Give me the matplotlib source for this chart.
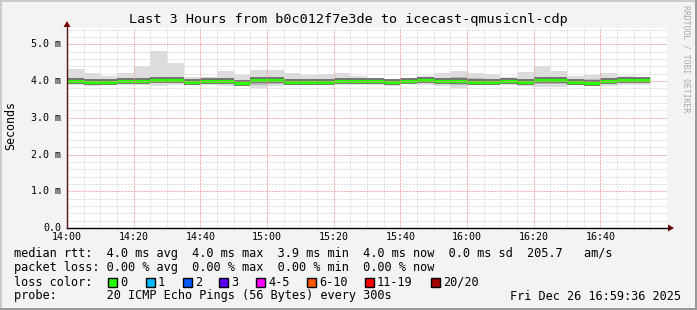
import numpy as np
import pandas as pd
import matplotlib
matplotlib.use("Agg")
import matplotlib.pyplot as plt
import matplotlib.dates as mdates
from matplotlib.patches import Rectangle, Polygon

W, H = 697, 310
MONO = "DejaVu Sans Mono"

# 5-minute smokeping bins, values in ms
times = pd.date_range("2025-12-26 14:00", periods=35, freq="5min")
rtt_max = [4.33, 4.21, 4.15, 4.22, 4.40, 4.82, 4.50, 4.10, 4.12, 4.26, 4.17, 4.29, 4.30, 4.21, 4.16, 4.19, 4.21, 4.14,
           4.06, 4.06, 4.08, 4.14, 4.23, 4.26, 4.23, 4.19, 4.12, 4.25, 4.41, 4.28, 4.13, 4.17, 4.21, 4.14, 4.11]
rtt_q3 = [4.08, 4.06, 4.04, 4.07, 4.09, 4.10, 4.08, 4.05, 4.05, 4.07, 4.04, 4.12, 4.11, 4.05, 4.05, 4.06, 4.08, 4.05,
          4.05, 4.03, 4.06, 4.09, 4.09, 4.10, 4.07, 4.05, 4.05, 4.06, 4.12, 4.10, 4.04, 4.05, 4.08, 4.07, 4.06]
rtt_median = [4.00, 3.98, 3.98, 4.01, 4.01, 4.02, 4.02, 3.98, 3.99, 3.99, 3.96, 4.03, 4.03, 3.97, 3.98, 3.98, 4.00, 3.99,
              4.00, 3.97, 4.00, 4.02, 4.01, 4.01, 3.98, 3.98, 3.99, 3.97, 4.03, 4.03, 3.97, 3.95, 4.00, 4.02, 4.02]
rtt_q1 = [3.95, 3.92, 3.94, 3.95, 3.94, 3.95, 3.96, 3.94, 3.93, 3.92, 3.92, 3.88, 3.92, 3.92, 3.93, 3.92, 3.95, 3.94,
          3.94, 3.92, 3.95, 3.95, 3.93, 3.90, 3.92, 3.93, 3.93, 3.92, 3.93, 3.91, 3.92, 3.91, 3.93, 3.95, 3.96]
rtt_min = [3.90, 3.86, 3.90, 3.90, 3.88, 3.87, 3.89, 3.91, 3.89, 3.87, 3.90, 3.80, 3.86, 3.88, 3.89, 3.88, 3.90, 3.90,
           3.89, 3.87, 3.91, 3.90, 3.86, 3.82, 3.88, 3.89, 3.88, 3.87, 3.85, 3.84, 3.88, 3.86, 3.87, 3.89, 3.90]

y_ticks = [0, 1, 2, 3, 4, 5]
y_labels = ["0.0", "1.0 m", "2.0 m", "3.0 m", "4.0 m", "5.0 m"]

loss_labels = ["0", "1", "2", "3", "4-5", "6-10", "11-19", "20/20"]
loss_colors = ["#26ff00", "#00b8ff", "#0059ff", "#5e00ff", "#ff00ff", "#ff5500", "#ff0000", "#a10000"]

title = "Last 3 Hours from b0c012f7e3de to icecast-qmusicnl-cdp"
line_rtt = "median rtt:  4.0 ms avg  4.0 ms max  3.9 ms min  4.0 ms now  0.0 ms sd  205.7   am/s"
line_loss = "packet loss: 0.00 % avg  0.00 % max  0.00 % min  0.00 % now"
line_probe = "probe:       20 ICMP Echo Pings (56 Bytes) every 300s"
stamp = "Fri Dec 26 16:59:36 2025"


def fx(x):
    return x / W


def fy(y):
    return 1 - y / H


fig = plt.figure(figsize=(W / 100, H / 100), dpi=100, facecolor="#f3f3f3")

# frame (rrdtool shade)
fig.add_artist(Rectangle((0, fy(2)), 1, 2 / H, transform=fig.transFigure, color="#cbcbcb", lw=0))
fig.add_artist(Rectangle((0, 0), 2 / W, 1, transform=fig.transFigure, color="#cbcbcb", lw=0))
fig.add_artist(Rectangle((0, 0), 1, 2 / H, transform=fig.transFigure, color="#999999", lw=0))
fig.add_artist(Rectangle((fx(W - 2), 0), 2 / W, 1, transform=fig.transFigure, color="#999999", lw=0))

ax = fig.add_axes([fx(67), fy(228), 600 / W, 200 / H])
ax.set_facecolor("white")

width = pd.Timedelta(minutes=5) / pd.Timedelta(days=1)
x = mdates.date2num(times)

ax.bar(x, np.array(rtt_max) - np.array(rtt_min), bottom=rtt_min, width=width, align="edge",
       color="#dcdcdc", linewidth=0, zorder=2)
ax.bar(x, np.array(rtt_q3) - np.array(rtt_q1), bottom=rtt_q1, width=width, align="edge",
       color="#b8b8b8", linewidth=0, zorder=3)
ax.hlines(rtt_median, x, x + width, colors="#707070", lw=4.2, zorder=4)
ax.hlines(rtt_median, x, x + width, colors=loss_colors[0], lw=2.3, zorder=5)

x0 = mdates.date2num(pd.Timestamp("2025-12-26 14:00"))
x1 = mdates.date2num(pd.Timestamp("2025-12-26 17:00"))
ax.set_xlim(x0, x1)
ax.set_ylim(0, 5.444)

# grid
dots = (0, (0.72, 0.72))
for m in range(5, 180, 5):
    xm = x0 + m / 1440
    major = m % 20 == 0
    ax.axvline(xm, color="#f09090" if major else "#d4d4d4", lw=0.72, ls=dots, zorder=1 if not major else 6)
for v in np.arange(0.2, 5.44, 0.2):
    major = abs(v - round(v)) < 1e-6
    ax.axhline(v, color="#f09090" if major else "#d4d4d4", lw=0.72, ls=dots, zorder=1 if not major else 6)

for s in ax.spines.values():
    s.set_visible(False)
ax.set_xticks([])
ax.set_yticks([])

# axes lines with arrows
fig.add_artist(plt.Line2D([fx(67), fx(670)], [fy(228), fy(228)], transform=fig.transFigure, color="#000000", lw=1))
fig.add_artist(plt.Line2D([fx(67), fx(67)], [fy(228), fy(25)], transform=fig.transFigure, color="#5a1010", lw=1))
fig.add_artist(Polygon([(fx(668), fy(224.5)), (fx(674), fy(228)), (fx(668), fy(231.5))],
                       transform=fig.transFigure, color="#7f0000", lw=0))
fig.add_artist(Polygon([(fx(63.5), fy(27)), (fx(67), fy(21)), (fx(70.5), fy(27))],
                       transform=fig.transFigure, color="#7f0000", lw=0))

# tick labels
ticks = pd.date_range("2025-12-26 14:00", "2025-12-26 16:40", freq="20min")
for t in ticks:
    px = 67 + (mdates.date2num(t) - x0) * 1440 * 600 / 180
    fig.text(fx(px), fy(237), t.strftime("%H:%M"), ha="center", va="center", family=MONO, fontsize=7.2)
for v, lab in zip(y_ticks, y_labels):
    py = 228 - v * 200 / 5.444
    fig.text(fx(61), fy(py), lab, ha="right", va="center", family=MONO, fontsize=7.2)

fig.text(fx(348), fy(19), title, ha="center", va="center", family=MONO, fontsize=9.7)
fig.text(fx(11), fy(126), "Seconds", ha="center", va="center", rotation=90, family=MONO, fontsize=8.4)
fig.text(fx(686), fy(5), "RRDTOOL / TOBI OETIKER", ha="center", va="top", rotation=-90,
         family=MONO, fontsize=5.9, color="#a8a8a8")

fig.text(fx(14.5), fy(254), line_rtt, ha="left", va="center", family=MONO, fontsize=8.6)
fig.text(fx(14.5), fy(268), line_loss, ha="left", va="center", family=MONO, fontsize=8.6)
fig.text(fx(14.5), fy(282), "loss color:", ha="left", va="center", family=MONO, fontsize=8.6)
fig.text(fx(14.5), fy(296), line_probe, ha="left", va="center", family=MONO, fontsize=8.6)
fig.text(fx(681), fy(296), stamp, ha="right", va="center", family=MONO, fontsize=8.6)

box_x = [108, 146, 183, 219, 256, 307, 365, 431]
for bx, lab, col in zip(box_x, loss_labels, loss_colors):
    fig.add_artist(Rectangle((fx(bx), fy(286.5)), 8.5 / W, 8.5 / H, transform=fig.transFigure,
                             facecolor=col, edgecolor="black", lw=1))
    fig.text(fx(bx + 12), fy(282), lab, ha="left", va="center", family=MONO, fontsize=8.6)

fig.savefig("out.png", dpi=100, facecolor=fig.get_facecolor())
